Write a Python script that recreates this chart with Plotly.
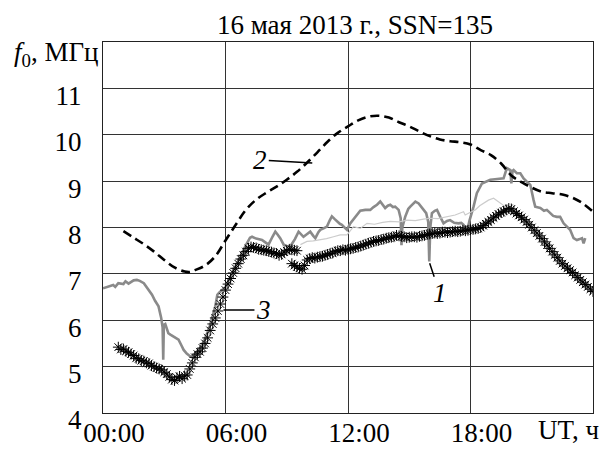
import plotly.graph_objects as go

# ---- data (hours UT, MHz) ----
t_grey = [0.0, 0.25, 0.5, 0.6, 0.75, 1.0, 1.1, 1.25, 1.5, 1.66, 1.8, 2.0, 2.2, 2.4, 2.55, 2.72, 2.85, 2.92,
          2.95, 2.98, 3.05, 3.2, 3.3, 3.5, 3.7, 3.85, 3.95, 4.1, 4.28, 4.4, 4.5, 4.75, 5.0, 5.25, 5.5, 5.6,
          5.7, 6.0, 6.25, 6.5, 6.75, 7.0, 7.2, 7.3, 7.5, 7.79, 7.95, 8.11, 8.3, 8.44, 8.55, 8.68, 8.85,
          9.0, 9.17, 9.4, 9.58, 9.7, 9.82, 10.0, 10.15, 10.3, 10.4, 10.55, 10.64, 10.8, 10.97, 11.1,
          11.21, 11.35, 11.46, 11.6, 11.7, 11.85, 11.95, 12.1, 12.19, 12.36, 12.6, 12.85, 13.09, 13.25,
          13.42, 13.58, 13.7, 13.82, 13.95, 14.07, 14.2, 14.31, 14.48, 14.58, 14.62, 14.66, 14.8, 14.95,
          15.05, 15.2, 15.3, 15.46, 15.62, 15.83, 15.93, 15.98, 16.03, 16.11, 16.25, 16.36, 16.52,
          16.68, 16.85, 17.0, 17.2, 17.41, 17.55, 17.66, 17.83, 17.95, 18.15, 18.31, 18.56, 18.8,
          18.97, 19.2, 19.46, 19.62, 19.78, 19.95, 20.0, 20.06, 20.11, 20.27, 20.44, 20.6, 20.76,
          20.93, 21.09, 21.17, 21.42, 21.6, 21.74, 21.9, 22.05, 22.23, 22.39, 22.56, 22.72, 22.88,
          23.05, 23.21, 23.35, 23.46, 23.54, 23.62]
f_grey = [6.69, 6.72, 6.76, 6.72, 6.80, 6.78, 6.84, 6.79, 6.86, 6.87, 6.85, 6.80, 6.68, 6.55, 6.42, 6.30, 6.05, 5.85,
          5.15, 5.90, 5.92, 5.72, 5.69, 5.64, 5.58, 5.45, 5.36, 5.28, 5.22, 5.22, 5.28, 5.40, 5.60, 5.90, 6.30, 6.55,
          6.60, 6.72, 6.95, 7.18, 7.42, 7.62, 7.78, 7.80, 7.76, 7.73, 7.68, 7.63, 7.80, 7.91, 7.85, 7.77, 7.63,
          7.60, 7.59, 7.75, 7.91, 7.85, 7.80, 7.86, 7.91, 7.82, 7.77, 7.90, 7.95, 7.98, 8.02, 8.15,
          8.24, 8.18, 8.13, 8.08, 8.06, 7.98, 7.95, 8.08, 8.13, 8.23, 8.36, 8.38, 8.38, 8.44,
          8.49, 8.56, 8.48, 8.42, 8.47, 8.49, 8.44, 8.45, 8.38, 8.20, 7.62, 8.00, 8.23, 8.40,
          8.45, 8.52, 8.56, 8.52, 8.42, 8.31, 8.12, 7.27, 8.00, 8.31, 8.36, 8.38, 8.23,
          8.09, 8.14, 8.16, 8.10, 8.09, 8.10, 8.06, 7.91, 8.15, 8.45, 8.74, 8.95, 9.00,
          9.03, 9.04, 9.05, 9.06, 9.28, 9.24, 8.95, 9.22, 9.24, 9.17, 9.17, 9.06, 8.99,
          8.92, 8.59, 8.45, 8.42, 8.36, 8.38, 8.31, 8.25, 8.23, 8.23, 8.09, 8.02, 7.95,
          7.77, 7.73, 7.75, 7.77, 7.66, 7.77]

t_light = [9.67, 9.99, 10.3, 10.64, 10.95, 11.29, 11.62, 11.95, 12.27, 12.6, 12.93, 13.3, 13.7, 14.07,
           14.5, 14.89, 15.3, 15.7, 16.03, 16.4, 16.85, 17.25, 17.66, 17.74, 18.0, 18.23, 18.45, 18.64,
           18.88, 19.13, 19.3, 19.46, 19.7]
f_light = [7.63, 7.70, 7.71, 7.73, 7.76, 7.80, 7.84, 7.84, 8.02, 7.98, 8.09, 8.07, 8.11, 8.13,
           8.12, 8.16, 8.15, 8.18, 8.20, 8.19, 8.23, 8.27, 8.34, 8.27, 8.33, 8.38, 8.47, 8.52,
           8.59, 8.63, 8.58, 8.52, 8.45]

t_dash = [1.0, 1.5, 2.0, 2.5, 3.0, 3.5, 4.0, 4.25, 4.5, 5.0, 5.5, 6.0, 6.5, 7.0, 7.5, 8.0, 8.5, 9.0,
          9.5, 10.0, 10.5, 11.0, 11.5, 12.0, 12.5, 13.0, 13.5, 14.0, 14.5, 15.0, 15.5, 16.0, 16.5,
          17.0, 17.5, 18.0, 18.5, 19.0, 19.5, 20.0, 20.5, 21.0, 21.5, 22.0, 22.5, 23.0, 23.5, 24.0]
f_dash = [7.92, 7.78, 7.64, 7.48, 7.30, 7.14, 7.05, 7.04, 7.08, 7.18, 7.38, 7.72, 8.06, 8.38, 8.60, 8.75, 8.88, 9.03,
          9.20, 9.40, 9.62, 9.85, 10.04, 10.18, 10.31, 10.39, 10.41, 10.37, 10.27, 10.18, 10.07, 9.97, 9.90,
          9.86, 9.84, 9.79, 9.67, 9.56, 9.38, 9.12, 8.98, 8.86, 8.77, 8.74, 8.71, 8.64, 8.52, 8.34]

# crosses series: first part (until the jump) and second part
t_x1 = [0.75, 0.875, 1.0, 1.125, 1.25, 1.375, 1.5, 1.625, 1.75, 1.875, 2.0, 2.125, 2.25, 2.375, 2.5,
        2.625, 2.75, 2.875, 3.0, 3.125, 3.25, 3.375, 3.5, 3.625, 3.75, 3.875, 4.0, 4.125, 4.25, 4.375,
        4.5, 4.625, 4.75, 4.875, 5.0, 5.125, 5.25, 5.375, 5.5, 5.625, 5.75, 5.875, 6.0, 6.125, 6.25,
        6.375, 6.5, 6.625, 6.75, 6.875, 7.0, 7.125, 7.25, 7.375, 7.5, 7.625, 7.75, 7.875, 8.0, 8.125,
        8.25, 8.375, 8.5, 8.625, 8.75, 8.875, 9.0, 9.125, 9.25, 9.375, 9.5]
f_x1 = [5.42, 5.37, 5.38, 5.33, 5.31, 5.27, 5.24, 5.18, 5.17, 5.13, 5.12, 5.08, 5.07, 5.02, 5.00,
        4.97, 4.95, 4.93, 4.88, 4.84, 4.78, 4.72, 4.70, 4.76, 4.79, 4.74, 4.80, 4.82, 4.95, 5.08,
        5.20, 5.27, 5.32, 5.40, 5.50, 5.62, 5.78, 5.92, 6.05, 6.20, 6.35, 6.50, 6.65, 6.78, 6.90,
        7.02, 7.12, 7.22, 7.32, 7.40, 7.48, 7.55, 7.58, 7.57, 7.56, 7.53, 7.52, 7.51, 7.50, 7.48,
        7.47, 7.45, 7.44, 7.40, 7.42, 7.47, 7.50, 7.53, 7.52, 7.51, 7.50]
t_x2 = [9.25, 9.375, 9.5, 9.625, 9.75, 9.875, 10.0, 10.125, 10.25, 10.375, 10.5, 10.625, 10.75, 10.875,
        11.0, 11.125, 11.25, 11.375, 11.5, 11.625, 11.75, 11.875, 12.0, 12.125, 12.25, 12.375, 12.5,
        12.625, 12.75, 12.875, 13.0, 13.125, 13.25, 13.375, 13.5, 13.625, 13.75, 13.875, 14.0, 14.125,
        14.25, 14.375, 14.5, 14.625, 14.75, 14.875, 15.0, 15.125, 15.25, 15.375, 15.5, 15.625, 15.75,
        15.875, 16.0, 16.125, 16.25, 16.375, 16.5, 16.625, 16.75, 16.875, 17.0, 17.125, 17.25, 17.375,
        17.5, 17.625, 17.75, 17.875, 18.0, 18.125, 18.25, 18.375, 18.5, 18.625, 18.75, 18.875, 19.0,
        19.125, 19.25, 19.375, 19.5, 19.625, 19.75, 19.875, 20.0, 20.125, 20.25, 20.375, 20.5, 20.625,
        20.75, 20.875, 21.0, 21.125, 21.25, 21.375, 21.5, 21.625, 21.75, 21.875, 22.0, 22.125, 22.25,
        22.375, 22.5, 22.625, 22.75, 22.875, 23.0, 23.125, 23.25, 23.375, 23.5, 23.625, 23.75, 23.875,
        24.0]
f_x2 = [7.22, 7.18, 7.15, 7.12, 7.10, 7.18, 7.30, 7.33, 7.35, 7.34, 7.36, 7.37, 7.38, 7.40,
        7.42, 7.44, 7.45, 7.48, 7.50, 7.50, 7.52, 7.51, 7.53, 7.54, 7.55, 7.57, 7.58,
        7.60, 7.62, 7.64, 7.66, 7.68, 7.70, 7.71, 7.72, 7.74, 7.75, 7.77, 7.78, 7.79,
        7.80, 7.83, 7.82, 7.81, 7.80, 7.78, 7.79, 7.80, 7.80, 7.79, 7.81, 7.82, 7.83,
        7.85, 7.86, 7.87, 7.88, 7.87, 7.88, 7.90, 7.90, 7.89, 7.90, 7.91, 7.92, 7.91,
        7.92, 7.94, 7.93, 7.94, 7.95, 7.96, 7.97, 7.98, 8.00, 8.04, 8.08, 8.12, 8.16,
        8.21, 8.25, 8.29, 8.32, 8.35, 8.38, 8.41, 8.40, 8.35, 8.30, 8.26, 8.22, 8.17,
        8.12, 8.06, 8.00, 7.94, 7.88, 7.82, 7.76, 7.69, 7.62, 7.55, 7.48, 7.41, 7.35,
        7.28, 7.22, 7.17, 7.12, 7.08, 7.03, 6.97, 6.92, 6.87, 6.82, 6.77, 6.72, 6.67,
        6.62]

x_tickvals = [0, 6, 12, 18]
x_ticktext = ["00:00", "06:00", "12:00", "18:00"]
y_tickvals = [4, 5, 6, 7, 8, 9, 10, 11]

FONT = "Liberation Serif, Times New Roman, serif"
FS = 27

# the page body adds an 8 px offset; the figure is sized to fill the rest
W, H = 603, 443
L, T, PW, PH = 95, 34, 490, 371


def px_x(px):  # reference pixel -> paper x
    return (px - 103) / PW


def px_y(py):  # reference pixel -> paper y
    return (413 - py) / PH


fig = go.Figure()
fig.add_trace(go.Scatter(x=t_grey, y=f_grey, mode="lines",
                         line=dict(color="#8a8a8a", width=2.6), showlegend=False))
fig.add_trace(go.Scatter(x=t_light, y=f_light, mode="lines",
                         line=dict(color="#cccccc", width=1.2), showlegend=False))
fig.add_trace(go.Scatter(x=t_dash, y=f_dash, mode="lines", line_shape="spline",
                         line=dict(color="black", width=2.6, dash="9px,5px"), showlegend=False))
for tx, fx in ((t_x1, f_x1), (t_x2, f_x2)):
    fig.add_trace(go.Scatter(x=tx, y=fx, mode="markers",
                             marker=dict(symbol="asterisk-open", size=9, color="black",
                                         line=dict(color="black", width=1)),
                             showlegend=False))

ann_font = dict(family=FONT, size=FS, color="black")
annotations = [
    dict(x=10.25, y=9.39, xref="x", yref="y", text="<i>2</i>", showarrow=True, arrowhead=0,
         arrowwidth=1.5, arrowcolor="black", ax=-52, ay=-3, font=ann_font, standoff=0),
    dict(x=5.9, y=6.22, xref="x", yref="y", text="<i>3</i>", showarrow=True, arrowhead=0,
         arrowwidth=1.5, arrowcolor="black", ax=40, ay=0, font=ann_font, standoff=0),
    dict(x=16.0, y=7.23, xref="x", yref="y", text="<i>1</i>", showarrow=True, arrowhead=0,
         arrowwidth=1.5, arrowcolor="black", ax=10, ay=30, font=ann_font, standoff=0),
    dict(x=px_x(101), y=px_y(54), xref="paper", yref="paper", xanchor="right", yanchor="middle",
         text="<i>f</i><sub>0</sub>, МГц", showarrow=False, font=ann_font),
    dict(x=px_x(601), y=px_y(430), xref="paper", yref="paper", xanchor="right", yanchor="middle",
         text="UT, ч", showarrow=False, font=ann_font),
]

fig.update_layout(
    width=W, height=H,
    margin=dict(l=L, r=W - L - PW, t=T, b=H - T - PH, autoexpand=False),
    paper_bgcolor="white", plot_bgcolor="white",
    font=dict(family=FONT, size=FS, color="black"),
    title=dict(text="16 мая 2013 г., SSN=135", x=(355 - 8) / W, xanchor="center",
               y=1 - (25 - 8) / H, yanchor="middle", font=dict(family=FONT, size=FS, color="black")),
    annotations=annotations,
)
fig.update_xaxes(range=[0, 24], tickvals=x_tickvals, ticktext=x_ticktext, showgrid=True,
                 gridcolor="#333333", gridwidth=1, showline=True, linecolor="#222222", linewidth=1,
                 mirror=True, zeroline=False, ticks="", ticklabelshift=11, ticklabelstandoff=-4,
                 automargin=False)
fig.update_yaxes(range=[4, 12], tickvals=y_tickvals, showgrid=True,
                 gridcolor="#333333", gridwidth=1, showline=True, linecolor="#222222", linewidth=1,
                 mirror=True, zeroline=False, ticks="outside", ticklen=15,
                 tickcolor="rgba(0,0,0,0)", ticklabelshift=7,
                 automargin=False)

fig.write_html("out.html")
